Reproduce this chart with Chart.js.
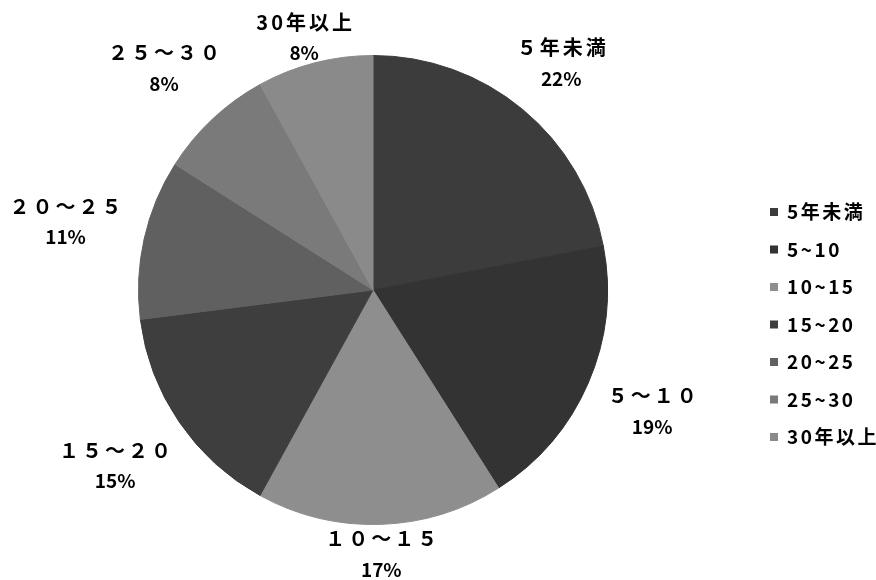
<!DOCTYPE html>
<html>
<head>
<meta charset="utf-8">
<script src="https://cdn.jsdelivr.net/npm/chart.js@4/dist/chart.umd.min.js"></script>
<style>
  html, body { margin: 0; padding: 0; background: #fff; }
  #wrap { width: 876px; height: 580px; }
</style>
</head>
<body>
<div id="wrap"><canvas id="chart" width="876" height="580"></canvas></div>
<script>
// years of service, share of staff in %
const categories = ['５年未満', '５～１０', '１０～１５', '１５～２０', '２０～２５', '２５～３０', '30年以上'];
const shares = [22, 19, 17, 15, 11, 8, 8];
const sliceColors = ['#3c3c3c', '#333333', '#8e8e8e', '#3e3e3e', '#606060', '#7a7a7a', '#8a8a8a'];

const FONT = '"Noto Sans CJK JP", "Noto Sans", sans-serif';

// name + percentage outside each slice
const outsideLabels = {
  id: 'outsideLabels',
  afterDatasetsDraw(chart) {
    const ctx = chart.ctx;
    const meta = chart.getDatasetMeta(0);
    ctx.save();
    ctx.fillStyle = '#000';
    ctx.textAlign = 'center';
    ctx.textBaseline = 'middle';
    meta.data.forEach((arc, i) => {
      const mid = (arc.startAngle + arc.endAngle) / 2;
      const name = chart.data.labels[i];
      const pct = chart.data.datasets[0].data[i] + '%';
      ctx.font = 'bold 20px ' + FONT;
      ctx.letterSpacing = '3px';
      const w = Math.max(ctx.measureText(name).width, ctx.measureText(pct).width);
      const hw = w / 2, hh = 22;
      const cos = Math.cos(mid), sin = Math.sin(mid);
      const gap = 5 + 15 * Math.abs(cos);
      const d = arc.outerRadius + gap + Math.abs(cos) * hw + Math.abs(sin) * hh;
      const cx = arc.x + cos * d;
      // keep the two-line box inside the canvas
      const cy = Math.max(arc.y + sin * d, 37);
      ctx.fillText(name, cx + 1.5, cy - 15);
      ctx.letterSpacing = '0px';
      ctx.font = 'bold 19px ' + FONT;
      ctx.fillText(pct, cx, cy + 16);
    });
    ctx.restore();
  }
};

// legend on the right, small square + half-width label
const sideLegend = {
  id: 'sideLegend',
  afterDraw(chart) {
    const ctx = chart.ctx;
    const area = chart.chartArea;
    const colors = chart.data.datasets[0].backgroundColor;
    const x0 = area.right + 162;
    const rowH = 37.5;
    const y0 = (area.top + area.bottom) / 2 - 78;
    ctx.save();
    ctx.font = 'bold 19px ' + FONT;
    ctx.letterSpacing = '2.5px';
    ctx.textAlign = 'left';
    ctx.textBaseline = 'middle';
    chart.data.labels.forEach((lab, i) => {
      const y = y0 + i * rowH;
      ctx.fillStyle = colors[i];
      ctx.fillRect(x0, y - 4, 8, 8);
      ctx.fillStyle = '#000';
      ctx.fillText(lab.normalize('NFKC'), x0 + 17, y);
    });
    ctx.restore();
  }
};

new Chart(document.getElementById('chart'), {
  type: 'pie',
  data: {
    labels: categories,
    datasets: [{
      data: shares,
      backgroundColor: sliceColors,
      borderColor: sliceColors,
      borderWidth: 1
    }]
  },
  options: {
    responsive: false,
    animation: false,
    layout: { padding: { top: 55, bottom: 55, left: 138, right: 268 } },
    plugins: {
      legend: { display: false },
      tooltip: { enabled: false }
    }
  },
  plugins: [outsideLabels, sideLegend]
});
</script>
</body>
</html>
